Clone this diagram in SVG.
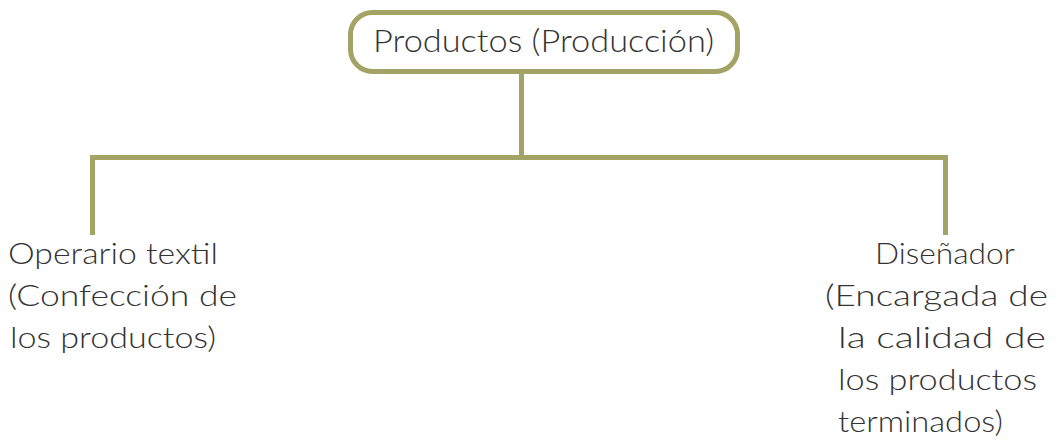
<svg xmlns="http://www.w3.org/2000/svg" width="1057" height="440" viewBox="0 0 1057 440">
  <style>
    .box { fill: #ffffff; stroke: #A2A365; stroke-width: 5; }
    .conn { fill: none; stroke: #A2A365; stroke-width: 5; stroke-linecap: butt; stroke-linejoin: miter; }
    .lbl { font-family: Lato, "Open Sans", "Liberation Sans", sans-serif; font-weight: 300; fill: #333333; font-size: 29px; }
    .title { font-size: 32px; }
  </style>
  <rect width="1057" height="440" fill="#ffffff"/>
  <g id="connectors">
    <path class="conn" d="M521.5 72 V157.5 M92.5 235 V157.5 H945.5 V235"/>
  </g>
  <g id="node-productos">
    <rect class="box" x="350.5" y="12.5" width="387" height="59" rx="22" ry="22"/>
    <text class="lbl title" x="373" y="52" textLength="341" lengthAdjust="spacingAndGlyphs">Productos (Producción)</text>
  </g>
  <g id="node-operario">
    <text class="lbl" x="8" y="264" textLength="210" lengthAdjust="spacingAndGlyphs">Operario textil</text>
    <text class="lbl" x="8" y="306" textLength="229" lengthAdjust="spacingAndGlyphs">(Confección de</text>
    <text class="lbl" x="10" y="348" textLength="206" lengthAdjust="spacingAndGlyphs">los productos)</text>
  </g>
  <g id="node-disenador">
    <text class="lbl" x="875" y="264" textLength="140" lengthAdjust="spacingAndGlyphs">Diseñador</text>
    <text class="lbl" x="825" y="306" textLength="223" lengthAdjust="spacingAndGlyphs">(Encargada de</text>
    <text class="lbl" x="838" y="348" textLength="208" lengthAdjust="spacingAndGlyphs">la calidad de</text>
    <text class="lbl" x="838" y="390" textLength="199" lengthAdjust="spacingAndGlyphs">los productos</text>
    <text class="lbl" x="838" y="432" textLength="165" lengthAdjust="spacingAndGlyphs">terminados)</text>
  </g>
</svg>
